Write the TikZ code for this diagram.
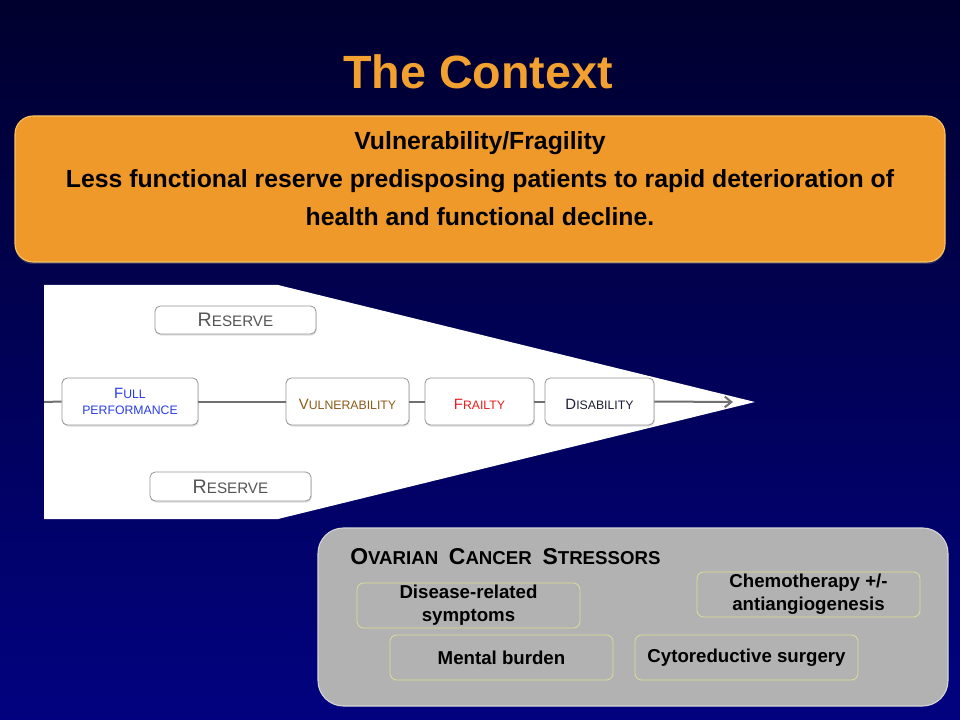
\documentclass[tikz,border=0pt]{standalone}
\usepackage{fontspec}
\setmainfont{Liberation Sans}
\usetikzlibrary{arrows.meta,shadows}

\definecolor{bgtop}{RGB}{0,0,46}
\definecolor{bgmid}{RGB}{4,4,84}
\definecolor{bgbot}{RGB}{2,2,128}
\definecolor{ctxorange}{RGB}{240,153,43}
\definecolor{ctxedge}{RGB}{248,196,100}
\definecolor{titleorange}{RGB}{242,160,48}
\definecolor{stressgray}{RGB}{178,178,178}
\definecolor{stressedge}{RGB}{214,214,214}
\definecolor{chipedge}{RGB}{222,222,150}
\definecolor{boxedge}{RGB}{150,150,150}
\definecolor{flowgray}{RGB}{112,112,112}
\definecolor{reservetext}{RGB}{85,85,85}
\definecolor{fulltext}{RGB}{40,60,235}
\definecolor{vultext}{RGB}{140,90,25}
\definecolor{frailtext}{RGB}{235,30,30}
\definecolor{distext}{RGB}{30,30,60}

% two-size small capitals: first letter large, rest smaller
\newcommand{\twosc}[4]{{\fontsize{#1}{#1}\selectfont #3}{\fontsize{#2}{#2}\selectfont #4}}

\tikzset{
  stagebox/.style={draw=boxedge, line width=0.6pt, fill=white,
    rounded corners=4pt, inner sep=0pt, align=center,
    drop shadow={shadow xshift=0.6pt, shadow yshift=-1.2pt, opacity=0.25}},
  oneline/.style={text height=12pt, text depth=0pt},
  chip/.style={draw=chipedge, line width=0.6pt, fill=stressgray,
    rounded corners=5pt, inner sep=0pt, align=center,
    minimum width={223*0.75pt}, minimum height={45*0.75pt},
    font=\bfseries\fontsize{14}{17.25}\selectfont},
  flow/.style={draw=flowgray, line width=1.5pt},
}

\begin{document}
\begin{tikzpicture}[x=0.75pt, y=-0.75pt]
\useasboundingbox (0,0) rectangle (960,720);

% background
\shade[top color=bgtop, middle color=bgmid, bottom color=bgbot] (0,0) rectangle (960,720);

% title
\node (title) [text=titleorange, font=\bfseries\fontsize{35}{35}\selectfont] at (478,72) {The Context};

% definition box
\node (ctx) [draw=ctxedge, line width=0.8pt, fill=ctxorange, rounded corners=13.5pt,
  minimum width={930*0.75pt}, minimum height={146*0.75pt},
  drop shadow={shadow xshift=0pt, shadow yshift=-1.5pt, opacity=0.35}] at (480,189) {};
\node (ctxtext) [align=center, font=\bfseries\fontsize{18.6}{28.5}\selectfont] at (480,179)
  {Vulnerability/Fragility\\
   Less functional reserve predisposing patients to rapid deterioration of\\
   health and functional decline.};

% white wedge
\fill[white] (44,285) -- (278,285) -- (755,402) -- (278,519) -- (44,519) -- cycle;

% reserve boxes
\node (res1) [stagebox, text=reservetext, minimum width={161*0.75pt}, minimum height={28*0.75pt}]
  at (235.5,320) {\raisebox{-1pt}{\twosc{14.7}{11.4}{R}{ESERVE}}};
\node (res2) [stagebox, text=reservetext, minimum width={161*0.75pt}, minimum height={29*0.75pt}]
  at (230.5,486.5) {\raisebox{-1pt}{\twosc{14.7}{11.4}{R}{ESERVE}}};

% stage boxes on the axis
\coordinate (axstart) at (44,402);
\coordinate (axend) at (733,402);
\node (full) [stagebox, text=fulltext, minimum width={136*0.75pt}, minimum height={47*0.75pt}]
  at (130,401.5) {\raisebox{-1pt}{\twosc{11.2}{9.2}{F}{ULL}}\\[0.5pt]\raisebox{-1pt}{\twosc{9.2}{9.2}{}{PERFORMANCE}}};
\node (vul) [stagebox, oneline, text=vultext, minimum width={123*0.75pt}, minimum height={47*0.75pt}]
  at (347.5,401.5) {\twosc{11.2}{9.2}{V}{ULNERABILITY}};
\node (frail) [stagebox, oneline, text=frailtext, minimum width={109*0.75pt}, minimum height={47*0.75pt}]
  at (479.5,401.5) {\twosc{11.2}{9.2}{F}{RAILTY}};
\node (dis) [stagebox, oneline, text=distext, minimum width={109*0.75pt}, minimum height={47*0.75pt}]
  at (599.5,401.5) {\twosc{11.2}{9.2}{D}{ISABILITY}};

\draw[flow] (axstart) -- (full.west);
\draw[flow] (full.east) -- (vul.west);
\draw[flow] (vul.east) -- (frail.west);
\draw[flow] (frail.east) -- (dis.west);
\draw[flow, -{Straight Barb[length=5pt, width=8pt, line width=1.5pt]}] (dis.east) -- (axend);

% stressors panel
\node (stress) [draw=stressedge, line width=0.8pt, fill=stressgray, rounded corners=19pt,
  minimum width={630*0.75pt}, minimum height={178*0.75pt}] at (633,617) {};
\node (stresstitle) [anchor=west, inner sep=0pt, font=\bfseries] at (350,557)
  {\twosc{17.2}{14}{O}{VARIAN}\hspace{8pt}\twosc{17.2}{14}{C}{ANCER}\hspace{8pt}\twosc{17.2}{14}{S}{TRESSORS}};

\node (disease) [chip] at (468.5,605.5) {Disease-related\\symptoms};
\node (chemo)   [chip] at (808.5,594.5) {Chemotherapy +/-\\antiangiogenesis};
\node (mental)  [chip] at (501.5,657.5) {Mental burden};
\node (cyto)    [chip] at (746.5,657.5) {Cytoreductive surgery};

\end{tikzpicture}
\end{document}
